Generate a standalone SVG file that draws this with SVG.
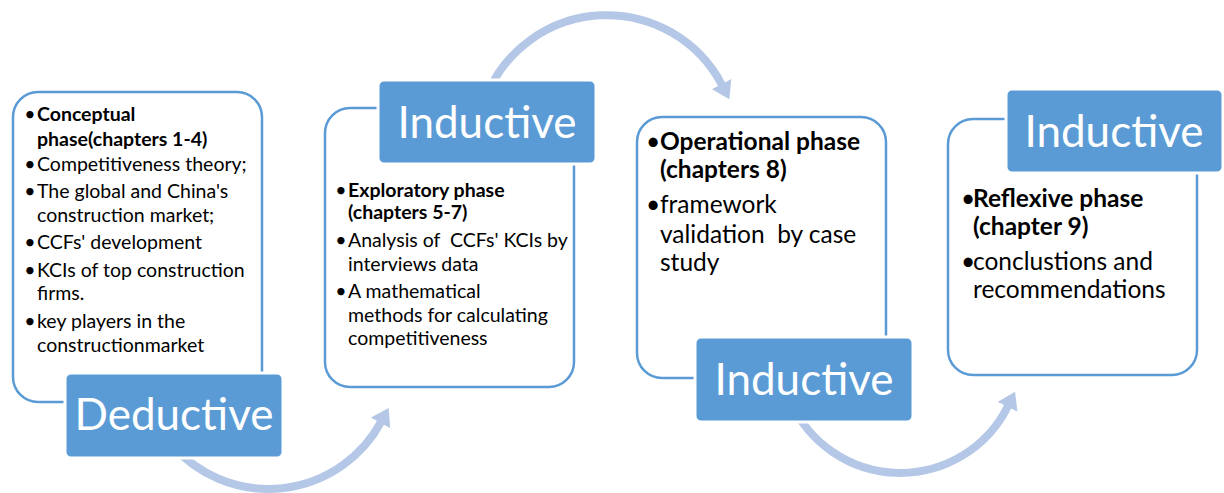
<svg xmlns="http://www.w3.org/2000/svg" width="1224" height="493" viewBox="0 0 1224 493">
<style>
text{font-family:Lato,"Liberation Sans",sans-serif;fill:#000;white-space:pre}
.card{fill:#fff;stroke:#5B9BD5;stroke-width:2.5}
.tag{fill:#5B9BD5;stroke:#fff;stroke-width:3}
.tagt{fill:#fff;font-size:44px;text-anchor:middle}
.s{font-size:19.5px}
.l{font-size:24.5px}
.b{font-weight:bold}
.bul{text-anchor:middle}
.arc{fill:none;stroke:#B4C7E7;stroke-width:8}
</style>
<defs>
<marker id="ah" markerUnits="userSpaceOnUse" markerWidth="20" markerHeight="22" refX="1" refY="11" orient="auto">
<path d="M0,0 L17,11 L0,22 z" fill="#B4C7E7"/>
</marker>
</defs>
<g id="connectors">
<path class="arc" d="M172,445 A128,128 0 0 0 381,422" marker-end="url(#ah)"/>
<path class="arc" d="M486,97 A130,130 0 0 1 722,85" marker-end="url(#ah)"/>
<path class="arc" d="M790,400 A120,120 0 0 0 1008,406" marker-end="url(#ah)"/>
</g>
<g id="conceptual">
<rect class="card" x="13" y="92" width="249" height="310" rx="25"/>
<g class="s">
<text class="bul" x="30" y="121">•</text>
<text class="b" x="37" y="121">Conceptual</text>
<text class="b" x="37" y="146">phase(chapters 1-4)</text>
<text class="bul" x="30" y="171">•</text>
<text x="37" y="171">Competitiveness theory;</text>
<text class="bul" x="30" y="198">•</text>
<text x="37" y="198">The global and China's</text>
<text x="37" y="222">construction market;</text>
<text class="bul" x="30" y="249">•</text>
<text x="37" y="249">CCFs' development</text>
<text class="bul" x="30" y="277">•</text>
<text x="37" y="277">KCIs of top construction</text>
<text x="37" y="300">firms.</text>
<text class="bul" x="30" y="328">•</text>
<text x="37" y="328">key players in the</text>
<text x="37" y="352">constructionmarket</text>
</g>
</g>
<g id="deductive">
<rect class="tag" x="65" y="373" width="218" height="85" rx="6"/>
<text class="tagt" x="174" y="430">Deductive</text>
</g>
<g id="exploratory">
<rect class="card" x="325" y="108" width="249" height="279" rx="25"/>
<g class="s">
<text class="bul" x="341" y="197">•</text>
<text class="b" x="348" y="197">Exploratory phase</text>
<text class="b" x="348" y="219">(chapters 5-7)</text>
<text class="bul" x="341" y="247">•</text>
<text x="348" y="247">Analysis of  CCFs' KCIs by</text>
<text x="348" y="271">interviews data</text>
<text class="bul" x="341" y="298">•</text>
<text x="348" y="298">A mathematical</text>
<text x="348" y="322">methods for calculating</text>
<text x="348" y="345">competitiveness</text>
</g>
</g>
<g id="inductive1">
<rect class="tag" x="378" y="80" width="218" height="84" rx="6"/>
<text class="tagt" x="487" y="138">Inductive</text>
</g>
<g id="operational">
<rect class="card" x="637" y="117" width="249" height="261" rx="25"/>
<g class="l">
<text class="bul" x="653" y="150">•</text>
<text class="b" x="660" y="150">Operational phase</text>
<text class="b" x="660" y="178">(chapters 8)</text>
<text class="bul" x="653" y="213">•</text>
<text x="660" y="213">framework</text>
<text x="660" y="243">validation  by case</text>
<text x="660" y="271">study</text>
</g>
</g>
<g id="inductive2">
<rect class="tag" x="695" y="337" width="218" height="85" rx="6"/>
<text class="tagt" x="804" y="395">Inductive</text>
</g>
<g id="reflexive">
<rect class="card" x="948" y="119" width="249" height="256" rx="25"/>
<g class="l">
<text class="bul" x="968" y="207">•</text>
<text class="b" x="973" y="207">Reflexive phase</text>
<text class="b" x="973" y="235">(chapter 9)</text>
<text class="bul" x="968" y="270">•</text>
<text x="973" y="270">conclustions and</text>
<text x="973" y="298">recommendations</text>
</g>
</g>
<g id="inductive3">
<rect class="tag" x="1006" y="89" width="217" height="84" rx="6"/>
<text class="tagt" x="1114" y="147">Inductive</text>
</g>
</svg>
